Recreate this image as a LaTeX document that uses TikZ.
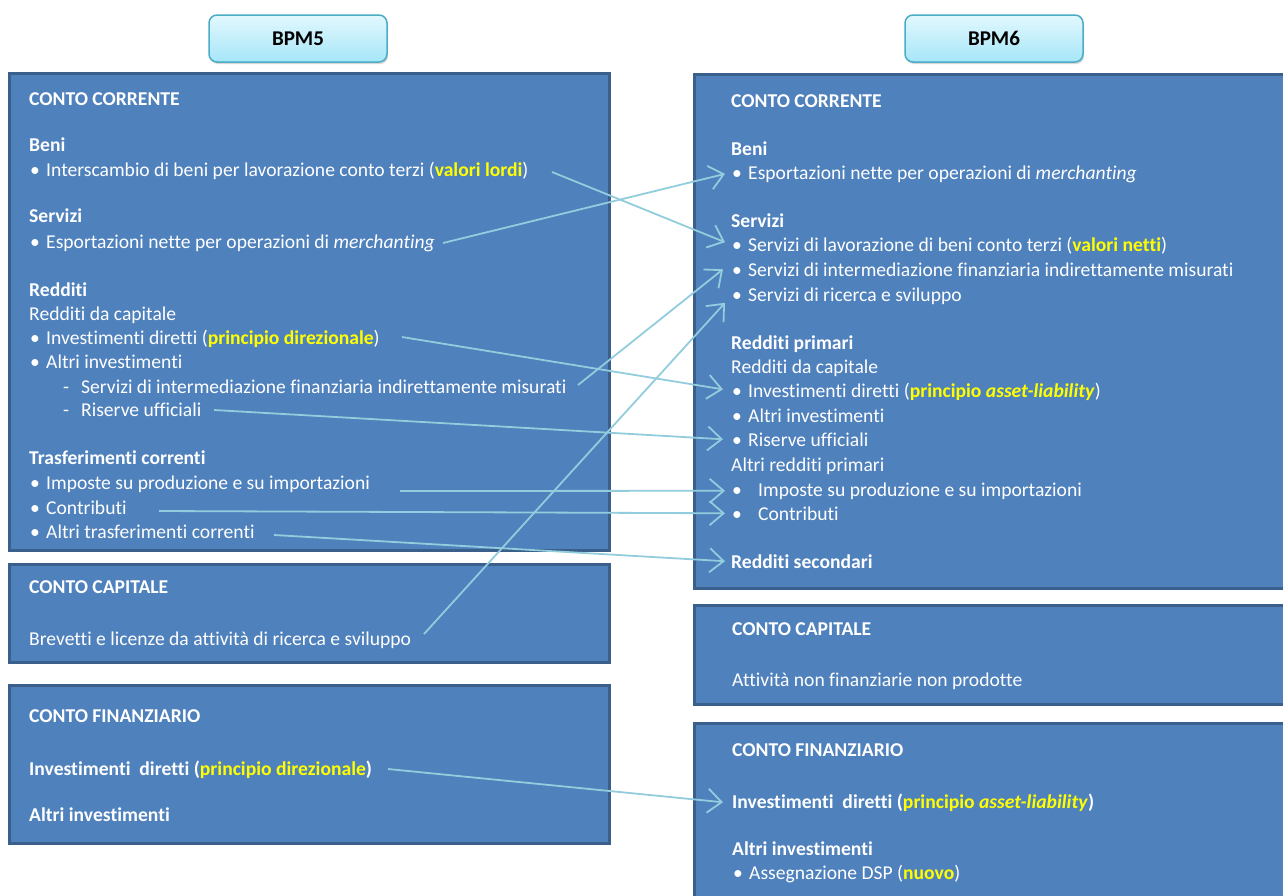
\documentclass[tikz,border=0pt]{standalone}
\usepackage{fontspec}
\setmainfont{Carlito}[Ligatures=CommonOff]
\usetikzlibrary{arrows.meta,shadows}
\definecolor{boxfill}{RGB}{79,129,189}
\definecolor{boxline}{RGB}{58,95,139}
\definecolor{arrowc}{RGB}{146,205,221}
\definecolor{hlyellow}{RGB}{255,255,0}
\definecolor{hdtop}{RGB}{226,248,254}
\definecolor{hdbot}{RGB}{166,230,248}
\definecolor{hdline}{RGB}{75,172,198}
\newcommand{\yl}[1]{\textcolor{hlyellow}{\textbf{#1}}}
\newcommand{\bl}{\makebox[17pt][l]{\hspace{1pt}\textbullet}}
\newcommand{\blw}{\makebox[27pt][l]{\hspace{1pt}\textbullet}}
\newcommand{\dashitem}{\hspace*{34pt}\makebox[18pt][l]{-}}
\newcommand{\fs}{\fontsize{19.6}{23}\selectfont}
\begin{document}
\begin{tikzpicture}[x=1pt,y=-1pt,
  panel/.style={draw=boxline, fill=boxfill, line width=3pt,
    drop shadow={opacity=0.3, shadow xshift=1.5pt, shadow yshift=-1.5pt}},
  tx/.style={anchor=base west, inner sep=0pt, text=white, font=\fs},
  hd/.style={tx, font=\fs\bfseries},
  hdr/.style={draw=hdline, line width=1.5pt, rounded corners=8pt,
    top color=hdtop, bottom color=hdbot, minimum width=178pt,
    minimum height=47pt, font=\fontsize{21}{25}\selectfont\bfseries, text=black,
    drop shadow={opacity=0.3, shadow xshift=1pt, shadow yshift=-2pt}},
  conn/.style={draw=arrowc, line width=1.8pt,
    -{Straight Barb[length=14pt,width=24pt]}}
]
\clip (0,0) rectangle (1283,895);
\fill[white] (0,0) rectangle (1283,895);

% header boxes
\node[hdr] (bpm5) at (298,38.5) {BPM5};
\node[hdr] (bpm6) at (994,38.5) {BPM6};

% panels
\path[panel] (9.5,73.5) rectangle (609.5,550.5);
\path[panel] (9.5,564.5) rectangle (609.5,662.5);
\path[panel] (9.5,685.5) rectangle (609.5,843.5);
\path[panel] (694.5,74.5) rectangle (1295,588.5);
\path[panel] (694.5,605.5) rectangle (1295,704.5);
\path[panel] (694.5,723.5) rectangle (1295,910);

% left texts
\node[hd] (lcc) at (29,105) {CONTO CORRENTE};
\node[hd] (lbeni) at (29,151) {Beni};
\node[tx] (linter) at (29,176) {\bl Interscambio di beni per lavorazione conto terzi (\yl{valori lordi})};
\node[hd] (lserv) at (29,222) {Servizi};
\node[tx] (lesp) at (29,248) {\bl Esportazioni nette per operazioni di \textit{merchanting}};
\node[hd] (lred) at (29,296) {Redditi};
\node[tx] (lredcap) at (29,320) {Redditi da capitale};
\node[tx] (linvdir) at (29,344) {\bl Investimenti diretti (\yl{principio direzionale})};
\node[tx] (laltri) at (29,368) {\bl Altri investimenti};
\node[tx] (lsifim) at (29,393) {\dashitem Servizi di intermediazione finanziaria indirettamente misurati};
\node[tx] (lris) at (29,416) {\dashitem Riserve ufficiali};
\node[hd] (ltrasf) at (29,464) {Trasferimenti correnti};
\node[tx] (limp) at (29,489) {\bl Imposte su produzione e su importazioni};
\node[tx] (lcontr) at (29,514) {\bl Contributi};
\node[tx] (laltrtr) at (29,538) {\bl Altri trasferimenti correnti};
\node[hd] (lck) at (29,593) {CONTO CAPITALE};
\node[tx] (lbrev) at (29,645) {Brevetti e licenze da attività di ricerca e sviluppo};
\node[hd] (lcf) at (29,722) {CONTO FINANZIARIO};
\node[hd] (lfinv) at (29,775) {Investimenti\ \ diretti (\yl{principio direzionale})};
\node[hd] (lfalt) at (29,821) {Altri investimenti};

% right texts
\node[hd] (rcc) at (731,107) {CONTO CORRENTE};
\node[hd] (rbeni) at (731,155) {Beni};
\node[tx] (resp) at (731,179) {\bl Esportazioni nette per operazioni di \textit{merchanting}};
\node[hd] (rserv) at (731,227) {Servizi};
\node[tx] (rlav) at (731,251) {\bl Servizi di lavorazione di beni conto terzi (\yl{valori netti})};
\node[tx] (rsifim) at (731,276) {\bl Servizi di intermediazione finanziaria indirettamente misurati};
\node[tx] (rric) at (731,301) {\bl Servizi di ricerca e sviluppo};
\node[hd] (rredp) at (731,349) {Redditi primari};
\node[tx] (rredcap) at (731,373) {Redditi da capitale};
\node[tx] (rinvdir) at (731,397) {\bl Investimenti diretti (\yl{principio \textit{asset-liability}})};
\node[tx] (raltri) at (731,422) {\bl Altri investimenti};
\node[tx] (rris) at (731,446) {\bl Riserve ufficiali};
\node[tx] (raltred) at (731,471) {Altri redditi primari};
\node[tx] (rimp) at (731,496) {\blw Imposte su produzione e su importazioni};
\node[tx] (rcontr) at (731,520) {\blw Contributi};
\node[hd] (rreds) at (731,568) {Redditi secondari};
\node[hd] (rck) at (732,635) {CONTO CAPITALE};
\node[tx] (ratt) at (732,686) {Attività non finanziarie non prodotte};
\node[hd] (rcf) at (732,756) {CONTO FINANZIARIO};
\node[hd] (rfinv) at (732,808) {Investimenti\ \ diretti (\yl{principio \textit{asset-liability}})};
\node[hd] (rfalt) at (732,855) {Altri investimenti};
\node[tx] (rdsp) at (732,879) {\bl Assegnazione DSP (\yl{nuovo})};

% connector start points
\coordinate (s1) at (552,172);
\coordinate (s2) at (443,243);
\coordinate (s3) at (402,337);
\coordinate (s4) at (578,385);
\coordinate (s5) at (214,410);
\coordinate (s6) at (400,491);
\coordinate (s7) at (159,511);
\coordinate (s8) at (274,535);
\coordinate (s9) at (424,634);
\coordinate (s10) at (388,769);

% connectors
\draw[conn] (s1) -- ([xshift=-6pt,yshift=3pt]rlav.west);
\draw[conn] (s2) -- ([xshift=-6pt]resp.west);
\draw[conn] (s3) -- ([xshift=-8pt,yshift=2pt]rinvdir.west);
\draw[conn] (s4) -- ([xshift=-8pt]rsifim.west);
\draw[conn] (s5) -- ([xshift=-8pt]rris.west);
\draw[conn] (s6) -- ([xshift=-6pt]rimp.west);
\draw[conn] (s7) -- ([xshift=-6pt]rcontr.west);
\draw[conn] (s8) -- ([xshift=-6pt]rreds.west);
\draw[conn] (s9) -- ([xshift=-6pt,yshift=-7pt]rric.west);
\draw[conn] (s10) -- ([xshift=-9pt]rfinv.west);
\end{tikzpicture}
\end{document}
